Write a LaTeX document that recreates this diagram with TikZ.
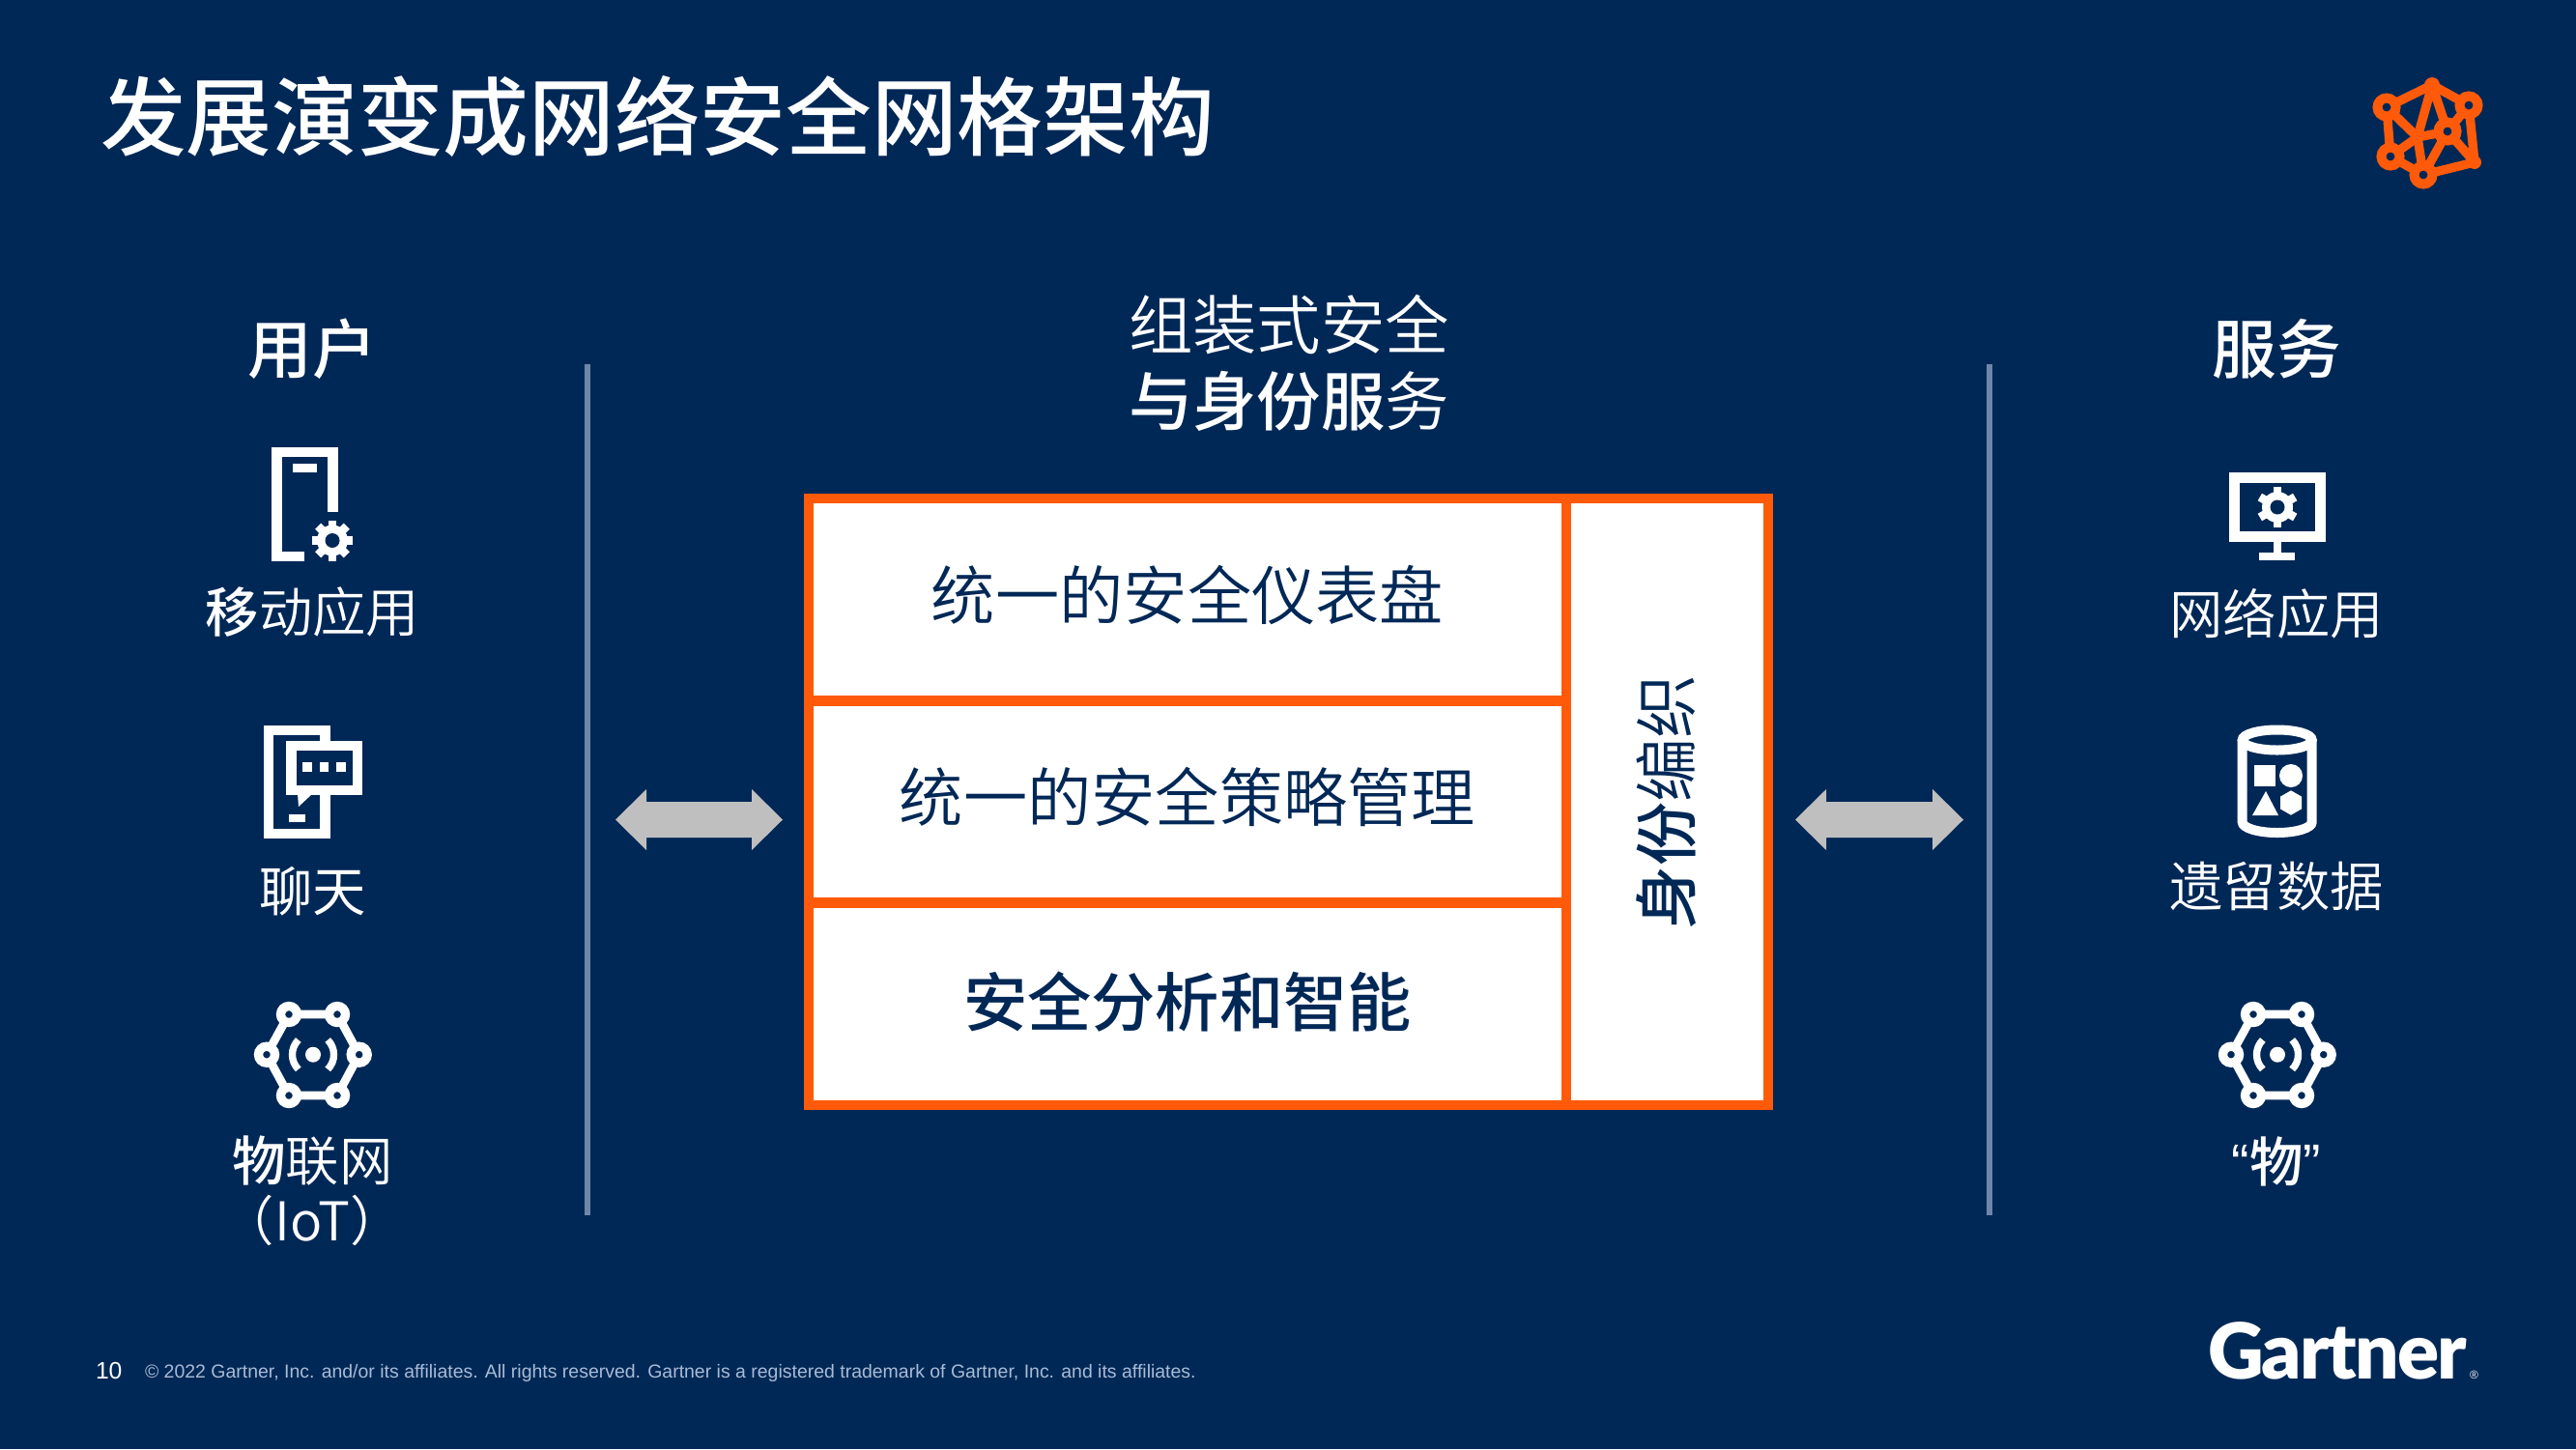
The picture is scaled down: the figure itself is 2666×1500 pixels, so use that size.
\documentclass[tikz,border=0pt]{standalone}
\usepackage{fontspec}
\usepackage{xcolor}
\setmainfont{Liberation Sans}
\newfontfamily\cjk{Noto Sans CJK SC}
\newfontfamily\cjklt{Noto Sans CJK SC DemiLight}
\newfontfamily\cjkmd{Noto Sans CJK SC Medium}
\newfontfamily\logofont[LetterSpace=-2.5]{Lato Black}
\definecolor{navy}{HTML}{002856}
\definecolor{meshorange}{HTML}{FF5A0A}
\definecolor{arrowgray}{HTML}{BFBFBF}
\definecolor{rulegray}{HTML}{6F86AA}
\definecolor{footgray}{HTML}{A9BBD6}
\newcommand{\fsize}[1]{\fontsize{#1}{#1}\selectfont}
\newcommand{\gearicon}[3]{
\foreach \a in {1,...,#3} {
\draw [white,line width=6.5] (#1,#2) -- ++({360/#3*\a+90}:21);
}
\fill [white] (#1,#2) circle (16);
\fill [navy] (#1,#2) circle (7.5);
}
\newcommand{\iotmark}[1]{
\begin{scope}[shift={(#1,0)}]
\draw [white,line width=6.5] (299,1050) -- (349,1050) -- (371.7,1091.7) -- (349,1134) -- (299,1134) -- (276,1091.7) -- cycle;
\foreach \p in {(299,1050),(349,1050),(371.7,1091.7),(349,1134),(299,1134),(276,1091.7)} {
\draw [white,line width=7,fill=navy] \p circle (8.5);
}
\fill [white] (324,1091.7) circle (8);
\draw [white,line width=5.5] (324,1091.7) ++(135:21.5) arc (135:225:21.5);
\draw [white,line width=5.5] (324,1091.7) ++(-45:21.5) arc (-45:45:21.5);
\end{scope}
}
\begin{document}
\begin{tikzpicture}[x=0.75pt,y=-0.75pt]
\tikzstyle{every node}=[inner sep=0,outer sep=0,text=white,align=center]
\tikzstyle{celltext}=[text=navy]
\tikzstyle{head}=[font=\cjkmd\fsize{50}]
\tikzstyle{item}=[font=\cjklt\fsize{41.5}]
\tikzstyle{boxline}=[meshorange,line width=8]
\tikzstyle{icon}=[white,line width=8]
\tikzstyle{rule}=[rulegray,line width=4]
\tikzstyle{bigarrow}=[arrowgray]
\tikzstyle{mesh}=[meshorange,line width=7]
\tikzstyle{hub}=[meshorange,line width=7.5,fill=navy]
\fill [navy] (0,0) rectangle (2666,1500);
\useasboundingbox (0,0) rectangle (2666,1500);
\node [anchor=west,font=\cjkmd\fsize{66.5}] (title) at (104,121) {发展演变成网络安全网格架构};
\coordinate (m0) at (2517,88);
\coordinate (m1) at (2470,111);
\coordinate (m2) at (2555,109);
\coordinate (m3) at (2533,136);
\coordinate (m4) at (2474,162);
\coordinate (m5) at (2508,181);
\coordinate (m6) at (2561,168);
\coordinate (m7) at (2502,142);
\draw [mesh,line join=round] (m1) -- (m0) -- (m2) -- (m6) -- (m5) -- (m4) -- (m1) -- (m7) -- (m3) -- (m6);
\draw [mesh,line join=round] (m0) -- (m7) -- (m5) -- (m3) -- (m0);
\draw [mesh] (m4) -- (m7);
\draw [mesh] (m2) -- (m3);
\fill [meshorange] (m0) circle (8);
\fill [meshorange] (m6) circle (7);
\fill [meshorange] (m7) circle (5);
\foreach \p in {m1,m2,m3,m4,m5} {
\draw [hub] (\p) circle (9.5);
}
\node [head] (users) at (323.5,361) {用户};
\draw [rule] (608,377) -- (608,1258);
\draw [rule] (2059,377) -- (2059,1258);
\draw [icon] (315,576) -- (286.7,576) -- (286.7,468) -- (344.5,468) -- (344.5,530);
\fill [white] (303,480) rectangle (328,489);
\gearicon{344}{559.5}{8}
\node [font=\fsize{41.5}] (mobile) at (323.5,634) {{\cjkmd 移}{\cjklt 动应用}};
\draw [icon] (336.5,767) -- (336.5,756) -- (278,756) -- (278,863) -- (336.5,863) -- (336.5,822);
\draw [icon] (301.3,772) rectangle (370,818);
\fill [white] (308,822) -- (323,822) -- (309,835) -- cycle;
\fill [white] (313,789) rectangle (323,799);
\fill [white] (331,789) rectangle (340,799);
\fill [white] (348,789) rectangle (358,799);
\fill [white] (299,843) rectangle (316,851);
\node [font=\cjk\fsize{41.5}] (chat) at (323.5,923) {聊天};
\iotmark{0}
\node [font=\fsize{41.5}] (iot) at (323.5,1202) {{\cjkmd 物}{\cjklt 联网}};
\node [font=\cjklt\fsize{41.5}] (iotb) at (323.5,1263) {（IoT）};
\node [font=\cjklt\fsize{49.8}] (head1) at (1334,336) {组装式安全};
\node [font=\fsize{49.8}] (head2) at (1334,415) {{\cjkmd 与身份服}{\cjklt 务}};
\fill [white] (837,516) rectangle (1830,1144);
\node [celltext,font=\cjklt\fsize{49.7}] (dash) at (1229,616) {统一的安全仪表盘};
\node [celltext,font=\cjklt\fsize{49.7}] (policy) at (1229,825) {统一的安全策略管理};
\node [celltext,font=\cjkmd\fsize{49.7}] (intel) at (1229,1037) {安全分析和智能};
\node [rotate=90,font=\fsize{49.5},text=navy] (fabric) at (1725,830) {{\cjkmd 身份}{\cjklt 编织}};
\draw [boxline] (837,516) rectangle (1830,1144);
\draw [boxline] (1621,516) -- (1621,1144);
\draw [boxline] (837,725.5) -- (1621,725.5);
\draw [boxline] (837,934.5) -- (1621,934.5);
\fill [bigarrow] (637,848.5) -- (669,817) -- (669,830) -- (778,830) -- (778,817) -- (810,848.5) -- (778,880) -- (778,867) -- (669,867) -- (669,880) -- cycle;
\fill [bigarrow] (1858,848.5) -- (1890,817) -- (1890,830) -- (2000,830) -- (2000,817) -- (2032,848.5) -- (2000,880) -- (2000,867) -- (1890,867) -- (1890,880) -- cycle;
\node [head] (services) at (2356,361) {服务};
\draw [icon] (2312.5,494.7) rectangle (2401.7,555.7);
\fill [white] (2353,560) rectangle (2361,572);
\fill [white] (2338,572) rectangle (2375,580);
\gearicon{2357}{525}{6}
\node [item] (webapp) at (2356,635) {网络应用};
\draw [white,line width=7.5] (2356.7,766) ellipse (36 and 10.5);
\draw [white,line width=7.5] (2320.7,766) -- (2320.7,851) arc (180:0:36 and 11) -- (2392.7,766);
\fill [white] (2333,792) rectangle (2355,814);
\fill [white] (2371,803) circle (12);
\fill [white] (2331,844) -- (2358,844) -- (2345,819) -- cycle;
\fill [white] (2371,818.3) -- (2382,824.6) -- (2382,837.4) -- (2371,843.7) -- (2360,837.4) -- (2360,824.6) -- cycle;
\node [item] (legacy) at (2356,918) {遗留数据};
\iotmark{2033}
\node [font=\fsize{41.5}] (things) at (2356,1202) {{\rmfamily “}{\cjkmd 物}{\rmfamily ”}};
\node [anchor=west,font=\fsize{18.5}] (pagenum) at (99,1419) {10};
\node [anchor=west,text=footgray,font=\fsize{14.6}] (legal) at (150,1421) {© 2022 Gartner, Inc. and/or its affiliates. All rights reserved. Gartner is a registered trademark of Gartner, Inc. and its affiliates.};
\node [anchor=west,font=\logofont\fsize{60}] (logo) at (2285,1398) {Gartner};
\node [anchor=west,font=\fsize{9}] (logor) at (2556,1423) {®};
\end{tikzpicture}
\end{document}
